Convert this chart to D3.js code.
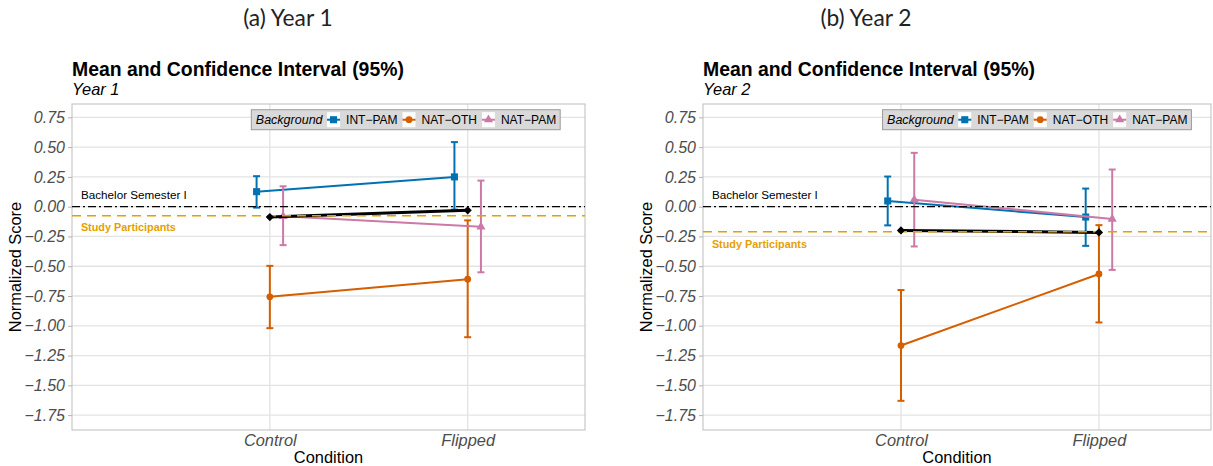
<!DOCTYPE html>
<html><head><meta charset="utf-8">
<script src="https://cdn.jsdelivr.net/npm/d3@7"></script>
<style>body{margin:0;background:#fff;} svg{display:block;}</style>
</head><body>
<svg id="chart" width="1213" height="466"></svg>
<script>
// ---------- data ----------
const conditions = ["Control", "Flipped"];
const groups = ["INT-PAM", "NAT-OTH", "NAT-PAM"];
const groupLabels = ["INT\u2212PAM", "NAT\u2212OTH", "NAT\u2212PAM"];
const yTicks = [0.75, 0.5, 0.25, 0, -0.25, -0.5, -0.75, -1, -1.25, -1.5, -1.75];
const yTickLabels = ["0.75", "0.50", "0.25", "0.00", "\u22120.25", "\u22120.50", "\u22120.75", "\u22121.00", "\u22121.25", "\u22121.50", "\u22121.75"];

// Year 1
const y1_INT_mean = [0.126, 0.250];
const y1_INT_lo   = [-0.008, -0.025];
const y1_INT_hi   = [0.256, 0.542];
const y1_OTH_mean = [-0.757, -0.609];
const y1_OTH_lo   = [-1.020, -1.096];
const y1_OTH_hi   = [-0.497, -0.115];
const y1_PAM_mean = [-0.081, -0.169];
const y1_PAM_lo   = [-0.323, -0.551];
const y1_PAM_hi   = [0.171, 0.219];
const y1_ALL_mean = [-0.087, -0.031];
const y1_participants = -0.076;

// Year 2
const y2_INT_mean = [0.048, -0.087];
const y2_INT_lo   = [-0.157, -0.329];
const y2_INT_hi   = [0.253, 0.152];
const y2_OTH_mean = [-1.166, -0.565];
const y2_OTH_lo   = [-1.630, -0.972];
const y2_OTH_hi   = [-0.700, -0.155];
const y2_PAM_mean = [0.059, -0.104];
const y2_PAM_lo   = [-0.334, -0.531];
const y2_PAM_hi   = [0.452, 0.312];
const y2_ALL_mean = [-0.200, -0.216];
const y2_participants = -0.211;

const bachelorValue = 0;

// ---------- style ----------
const colors = {"INT-PAM": "#0072B2", "NAT-OTH": "#D55E00", "NAT-PAM": "#CC79A7"};
const shapes = {"INT-PAM": d3.symbolSquare, "NAT-OTH": d3.symbolCircle, "NAT-PAM": d3.symbolTriangle};
const shapeSize = {"INT-PAM": 50, "NAT-OTH": 36, "NAT-PAM": 36};
const dodgeIdx = {"INT-PAM": -1, "NAT-OTH": 0, "NAT-PAM": 1};
const dodge = 0.067;
const FONT = "'Liberation Sans', Arial, Helvetica, sans-serif";

const panels = [
  { caption: "(a) Year 1", captionX: 288, subtitle: "Year 1",
    left: 72, right: 585, xMax: 2.593, yTitleX: 21,
    series: {"INT-PAM": [y1_INT_mean, y1_INT_lo, y1_INT_hi],
             "NAT-OTH": [y1_OTH_mean, y1_OTH_lo, y1_OTH_hi],
             "NAT-PAM": [y1_PAM_mean, y1_PAM_lo, y1_PAM_hi]},
    all: y1_ALL_mean, participants: y1_participants },
  { caption: "(b) Year 2", captionX: 866, subtitle: "Year 2",
    left: 703, right: 1211, xMax: 2.566, yTitleX: 652,
    series: {"INT-PAM": [y2_INT_mean, y2_INT_lo, y2_INT_hi],
             "NAT-OTH": [y2_OTH_mean, y2_OTH_lo, y2_OTH_hi],
             "NAT-PAM": [y2_PAM_mean, y2_PAM_lo, y2_PAM_hi]},
    all: y2_ALL_mean, participants: y2_participants }
];

const svg = d3.select("#chart");
const plotTop = 104, plotBottom = 430;
const y = d3.scaleLinear().domain([-1.875, 0.862]).range([plotBottom, plotTop]);

panels.forEach(p => {
  const x = d3.scaleLinear().domain([0, p.xMax]).range([p.left, p.right]);
  const g = svg.append("g");

  // caption
  svg.append("text").attr("x", p.captionX).attr("y", 26).attr("text-anchor", "middle")
    .style("font-family", "Lato, 'Open Sans', sans-serif").style("font-size", "22.8px").style("fill", "#222")
    .text(p.caption);
  // title & subtitle
  g.append("text").attr("x", p.left).attr("y", 76)
    .style("font-family", FONT).style("font-size", "19.4px").style("font-weight", "bold").style("fill", "#000")
    .text("Mean and Confidence Interval (95%)");
  g.append("text").attr("x", p.left).attr("y", 95)
    .style("font-family", FONT).style("font-size", "16.4px").style("font-style", "italic").style("fill", "#000")
    .text(p.subtitle);

  // grid
  const grid = g.append("g");
  grid.selectAll("line.h").data(yTicks).join("line")
    .attr("x1", p.left).attr("x2", p.right).attr("y1", d => y(d)).attr("y2", d => y(d))
    .attr("stroke", "#e3e3e3").attr("stroke-width", 1.3);
  grid.selectAll("line.v").data(conditions).join("line")
    .attr("x1", (d, i) => x(i + 1)).attr("x2", (d, i) => x(i + 1)).attr("y1", plotTop).attr("y2", plotBottom)
    .attr("stroke", "#e3e3e3").attr("stroke-width", 1.3);
  g.append("rect").attr("x", p.left).attr("y", plotTop).attr("width", p.right - p.left).attr("height", plotBottom - plotTop)
    .attr("fill", "none").attr("stroke", "#c4c4c4").attr("stroke-width", 1.1);

  // y axis
  const yAxis = d3.axisLeft(y).tickValues(yTicks).tickSize(4).tickPadding(3)
    .tickFormat((d, i) => yTickLabels[i]);
  const ya = g.append("g").attr("transform", `translate(${p.left},0)`).call(yAxis);
  ya.select(".domain").remove();
  ya.selectAll(".tick line").attr("stroke", "#b3b3b3");
  ya.selectAll(".tick text").style("font-family", FONT).style("font-size", "16px")
    .style("font-style", "italic").style("fill", "#4d4d4d");

  // x axis
  const xAxis = d3.axisBottom(x).tickValues([1, 2]).tickSize(0).tickPadding(4)
    .tickFormat(d => conditions[d - 1]);
  const xa = g.append("g").attr("transform", `translate(0,${plotBottom})`).call(xAxis);
  xa.select(".domain").remove();
  xa.selectAll(".tick text").style("font-family", FONT).style("font-size", "16.4px")
    .style("font-style", "italic").style("fill", "#4d4d4d").attr("dy", "0.71em");

  // axis titles
  g.append("text").attr("x", (p.left + p.right) / 2).attr("y", 463).attr("text-anchor", "middle")
    .style("font-family", FONT).style("font-size", "16.4px").style("fill", "#000").text("Condition");
  g.append("text").attr("transform", `translate(${p.yTitleX},${(plotTop + plotBottom) / 2}) rotate(-90)`)
    .attr("text-anchor", "middle")
    .style("font-family", FONT).style("font-size", "16.4px").style("fill", "#000").text("Normalized Score");

  // series
  const plot = g.append("g");
  groups.forEach(gr => {
    const [mean, lo, hi] = p.series[gr];
    const c = colors[gr];
    const pts = conditions.map((cnd, i) => ({cx: x(i + 1 + dodgeIdx[gr] * dodge), m: mean[i], lo: lo[i], hi: hi[i]}));
    const sg = plot.append("g");
    pts.forEach(d => {
      sg.append("line").attr("x1", d.cx).attr("x2", d.cx).attr("y1", y(d.lo)).attr("y2", y(d.hi))
        .attr("stroke", c).attr("stroke-width", 2);
      [d.lo, d.hi].forEach(v => sg.append("line").attr("x1", d.cx - 3.5).attr("x2", d.cx + 3.5)
        .attr("y1", y(v)).attr("y2", y(v)).attr("stroke", c).attr("stroke-width", 2));
    });
    sg.append("path").datum(pts)
      .attr("d", d3.line().x(d => d.cx).y(d => y(d.m)))
      .attr("fill", "none").attr("stroke", c).attr("stroke-width", 2);
    sg.selectAll("path.pt").data(pts).join("path")
      .attr("transform", d => `translate(${d.cx},${y(d.m)})`)
      .attr("d", d3.symbol().type(shapes[gr]).size(shapeSize[gr])).attr("fill", c);
  });

  // overall line
  const allPts = conditions.map((cnd, i) => ({cx: x(i + 1), m: p.all[i]}));
  plot.append("path").datum(allPts)
    .attr("d", d3.line().x(d => d.cx).y(d => y(d.m)))
    .attr("fill", "none").attr("stroke", "#000").attr("stroke-width", 3);

  // reference lines
  plot.append("line").attr("x1", p.left).attr("x2", p.right)
    .attr("y1", y(bachelorValue)).attr("y2", y(bachelorValue))
    .attr("stroke", "#000").attr("stroke-width", 1.4).attr("stroke-dasharray", "8,3,2,3");
  plot.append("line").attr("x1", p.left).attr("x2", p.right)
    .attr("y1", y(p.participants)).attr("y2", y(p.participants))
    .attr("stroke", "#E69F00").attr("stroke-width", 1.6).attr("stroke-dasharray", "9,6");

  plot.selectAll("path.dia").data(allPts).join("path")
    .attr("transform", d => `translate(${d.cx},${y(d.m)}) rotate(45)`)
    .attr("d", d3.symbol().type(d3.symbolSquare).size(34)).attr("fill", "#000");

  // annotations
  plot.append("text").attr("x", x(0.045)).attr("y", y(bachelorValue + 0.1)).attr("dy", "0.35em")
    .style("font-family", FONT).style("font-size", "11.7px").style("fill", "#000").text("Bachelor Semester I");
  plot.append("text").attr("x", x(0.045)).attr("y", y(p.participants - 0.1)).attr("dy", "0.35em")
    .style("font-family", FONT).style("font-size", "11px").style("font-weight", "bold")
    .style("fill", "#E69F00").attr("textLength", 95).attr("lengthAdjust", "spacingAndGlyphs")
    .text("Study Participants");

  // legend
  const lg = g.append("g");
  const box = lg.append("rect").attr("fill", "#d9d9d9").attr("stroke", "#9a9a9a").attr("stroke-width", 1);
  let cur = 4.5;
  const lt = lg.append("text").attr("x", cur).attr("y", 0).attr("dy", "0.35em")
    .style("font-family", FONT).style("font-size", "12.5px").style("font-style", "italic").style("fill", "#000")
    .text("Background");
  cur += lt.node().getComputedTextLength() + 2.5;
  groups.forEach((gr, i) => {
    const kw = 17;
    lg.append("rect").attr("x", cur + 2).attr("y", -7.5).attr("width", kw - 4).attr("height", 15).attr("fill", "#fff");
    lg.append("line").attr("x1", cur + 2).attr("x2", cur + kw - 2).attr("y1", 0).attr("y2", 0)
      .attr("stroke", colors[gr]).attr("stroke-width", 2);
    lg.append("path").attr("transform", `translate(${cur + kw / 2},0)`)
      .attr("d", d3.symbol().type(shapes[gr]).size(shapeSize[gr])).attr("fill", colors[gr]);
    cur += kw + 4;
    const t = lg.append("text").attr("x", cur).attr("y", 0).attr("dy", "0.35em")
      .style("font-family", FONT).style("font-size", "12px").style("fill", "#000").text(groupLabels[i]);
    cur += t.node().getComputedTextLength() + 3;
  });
  const bw = cur + 1;
  box.attr("x", 0).attr("y", -10).attr("width", bw).attr("height", 20);
  lg.attr("transform", `translate(${x(1.687) - bw / 2},${y(0.73)})`);
});
</script>
</body></html>
